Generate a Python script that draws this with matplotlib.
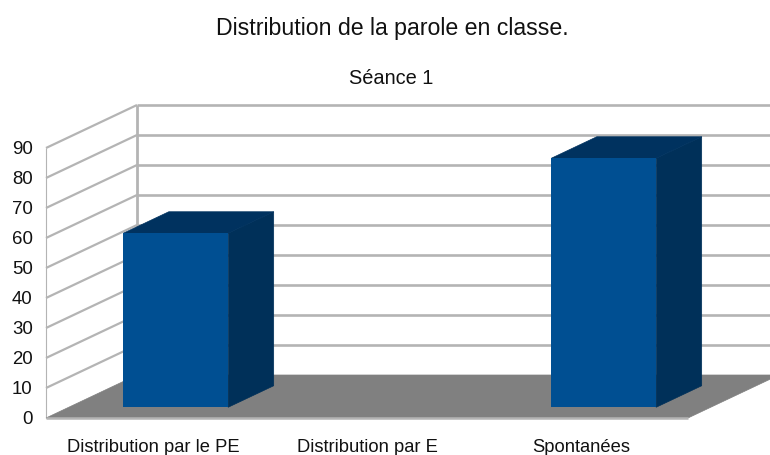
import matplotlib
matplotlib.use('Agg')
import matplotlib.pyplot as plt
from matplotlib.patches import Polygon

# Valeurs
categories = ['Distribution par le PE', 'Distribution par E', 'Spontanées']
valeurs = [58, 0, 83]
graduations = [0, 10, 20, 30, 40, 50, 60, 70, 80, 90]

W, H = 770, 455
COR_FACE = '#004f92'
COR_DESSUS = '#00325f'
COR_COTE = '#003059'
COR_GRILLE = '#b4b4b4'
COR_SOL = '#808080'

plt.rcParams['font.family'] = ['Liberation Sans', 'DejaVu Sans']

fig = plt.figure(figsize=(W / 100, H / 100), dpi=100, facecolor='white')
# L'axe correspond au plan avant de la boite 3D
ax = fig.add_axes([46 / W, 1 - 418 / H, 642 / W, 270 / H])
ax.set_xlim(-0.5, 2.5)
ax.set_ylim(0, 90)
ax.patch.set_visible(False)

# Décalage oblique de la profondeur, en unités de données
PROF_X = 91 / 214
PROF_Y = 43 / 3.0
XMIN, XMAX = -0.5, 2.5
YMAX = graduations[-1]


def pt(x, y, d=0.0):
    return (x + d * PROF_X, y + d * PROF_Y)


def ligne(p, q, lw=1.9, z=1):
    ax.plot([p[0], q[0]], [p[1], q[1]], color=COR_GRILLE, lw=lw, zorder=z,
            clip_on=False, solid_capstyle='butt')


def poly(points, couleur, z):
    ax.add_patch(Polygon(points, closed=True, facecolor=couleur, edgecolor=couleur,
                         linewidth=0.5, zorder=z, clip_on=False))


# Murs et grille
for g in graduations[1:]:
    ligne(pt(XMIN, g), pt(XMIN, g, 1), lw=1.6)
    ligne(pt(XMIN, g, 1), pt(XMAX, g, 1))
ligne(pt(XMIN, 0), pt(XMIN, YMAX), lw=0.8)
ligne(pt(XMIN, 0, 1), pt(XMIN, YMAX, 1), lw=2.0)

# Sol
poly([pt(XMIN, 0), pt(XMAX, 0), pt(XMAX, 0, 1), pt(XMIN, 0, 1)], COR_SOL, 2)
ligne(pt(XMIN, 0), pt(XMAX, 0), lw=1.8, z=3)

# Barres : face avant dans ax.bar, dessus et côté en polygones
LARG = 0.49
D1, D2 = 0.25, 0.75
positions = range(len(categories))
x_avant = [i + D1 * PROF_X for i in positions]
ax.bar(x_avant, valeurs, width=LARG, bottom=D1 * PROF_Y, color=COR_FACE, zorder=6,
       clip_on=False, linewidth=0)
for x, v in zip(x_avant, valeurs):
    if v == 0:
        continue
    g, d = x - LARG / 2, x + LARG / 2
    base = D1 * PROF_Y
    ep = D2 - D1
    poly([(d, base), (d, base + v), pt(d, base + v, ep), pt(d, base, ep)], COR_COTE, 5)
    poly([(g, base + v), (d, base + v), pt(d, base + v, ep), pt(g, base + v, ep)], COR_DESSUS, 5)

# Axes et textes
ax.set_xticks(list(positions))
ax.set_xticklabels(categories, fontsize=13.2, color='#111111')
ax.set_yticks(graduations)
ax.set_yticklabels([str(g) for g in graduations], fontsize=13.4, color='#111111')
ax.tick_params(length=0)
ax.tick_params(axis='y', pad=9.5)
ax.tick_params(axis='x', pad=15)
for s in ax.spines.values():
    s.set_visible(False)

fig.text(392.5 / W, 1 - 28 / H, 'Distribution de la parole en classe.', ha='center', va='center',
         fontsize=16.7, color='#111111')
fig.text(391 / W, 1 - 78 / H, 'Séance 1', ha='center', va='center', fontsize=14.4, color='#111111')

fig.savefig('out.png', dpi=100, facecolor='white')
